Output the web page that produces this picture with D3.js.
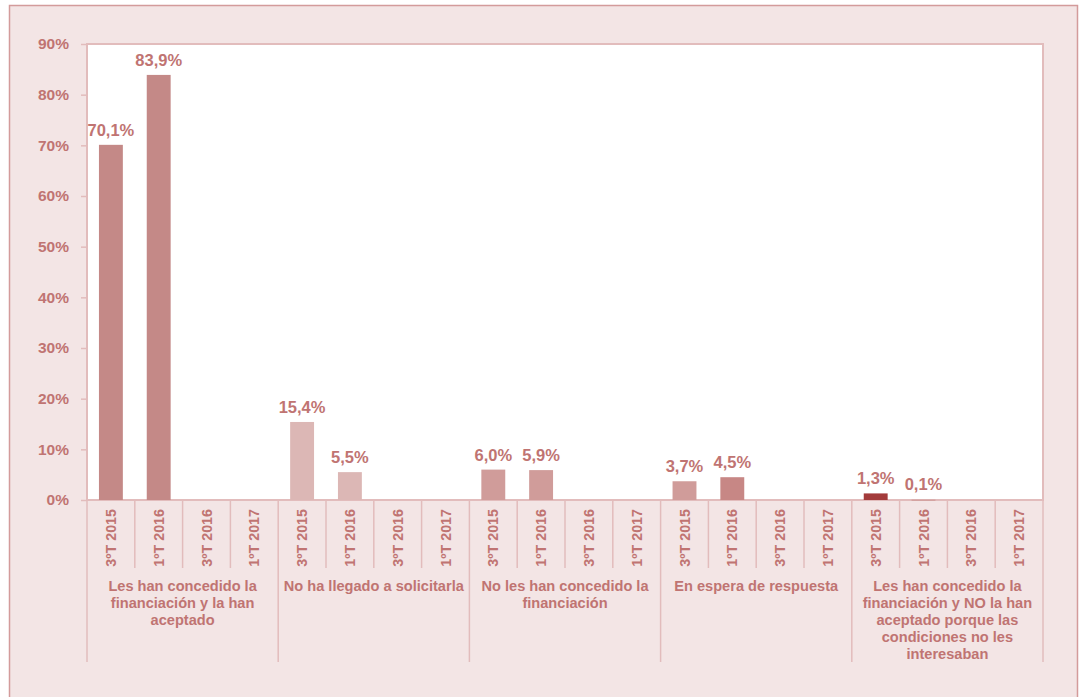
<!DOCTYPE html>
<html>
<head>
<meta charset="utf-8">
<script src="https://cdn.jsdelivr.net/npm/d3@7"></script>
<style>
  body { margin: 0; background: #fff; }
  svg { display: block; font-family: "Liberation Sans", Arial, sans-serif; font-weight: bold; }
</style>
</head>
<body>
<div id="chart"></div>
<script>
// data
const groups = [
  "Les han concedido la|financiación y la han|aceptado",
  "No ha llegado a solicitarla",
  "No les han concedido la|financiación",
  "En espera de respuesta",
  "Les han concedido la|financiación y NO la han|aceptado porque las|condiciones no les|interesaban"
];
const periods = ["3ºT 2015", "1ºT 2016", "3ºT 2016", "1ºT 2017"];
const values = [
  [70.1, 83.9, null, null],
  [15.4, 5.5, null, null],
  [6.0, 5.9, null, null],
  [3.7, 4.5, null, null],
  [1.3, 0.1, null, null]
];
const barColors = [
  ["#c48987", "#c48987"],
  ["#dcb7b5", "#dcb7b5"],
  ["#d09c9a", "#d09c9a"],
  ["#d09c9a", "#c78785"],
  ["#a33b3b", "#d4a3a1"]
];
const yTicks = [0, 10, 20, 30, 40, 50, 60, 70, 80, 90];

const W = 1079, H = 697;
const plotLeft = 87, plotRight = 1043, plotTop = 44, plotBottom = 500;
const textColor = "#c07472";
const lineColor = "#e2bcbc";

const svg = d3.select("#chart").append("svg")
  .attr("width", W).attr("height", H);

// frame
svg.append("rect")
  .attr("x", 9.5).attr("y", 5.5)
  .attr("width", 1068).attr("height", 720)
  .attr("fill", "#f3e5e5")
  .attr("stroke", "#d39b9b").attr("stroke-width", 1.5);

svg.append("rect")
  .attr("x", plotLeft).attr("y", plotTop)
  .attr("width", plotRight - plotLeft).attr("height", plotBottom - plotTop)
  .attr("fill", "#fff")
  .attr("stroke", lineColor).attr("stroke-width", 2);

const rows = [];
groups.forEach((g, gi) => periods.forEach((p, pi) => {
  rows.push({ key: gi + "|" + pi, gi, pi, period: p, value: values[gi][pi] });
}));

const x = d3.scaleBand()
  .domain(rows.map(d => d.key))
  .range([plotLeft, plotRight])
  .paddingInner(0.5)
  .paddingOuter(0.25);

const y = d3.scaleLinear().domain([0, 90]).range([plotBottom, plotTop]);

const step = x.step();
const fmt = v => d3.format(".1f")(v).replace(".", ",") + "%";

// y axis
const yAxis = svg.append("g")
  .attr("transform", `translate(${plotLeft},0)`)
  .call(d3.axisLeft(y).tickValues(yTicks).tickSize(6).tickPadding(12).tickFormat(d => d + "%"));
yAxis.select(".domain").remove();
yAxis.selectAll("line").attr("stroke", lineColor).attr("stroke-width", 1.5);
yAxis.selectAll("text")
  .attr("fill", textColor)
  .attr("font-size", 15.5)
  .attr("font-family", "Liberation Sans, Arial, sans-serif")
  .attr("font-weight", "bold");

// bars
const barRows = rows.filter(d => d.value != null);
svg.append("g").selectAll("rect")
  .data(barRows)
  .join("rect")
  .attr("x", d => x(d.key))
  .attr("width", x.bandwidth())
  .attr("y", d => y(d.value))
  .attr("height", d => Math.max(1.5, y(0) - y(d.value)))
  .attr("fill", d => barColors[d.gi][d.pi]);

svg.append("g").selectAll("text")
  .data(barRows)
  .join("text")
  .attr("x", d => x(d.key) + x.bandwidth() / 2)
  .attr("y", d => y(d.value) - 9)
  .attr("text-anchor", "middle")
  .attr("font-size", 16.5)
  .attr("fill", textColor)
  .text(d => fmt(d.value));

// category separators
const sep = svg.append("g").attr("stroke", lineColor).attr("stroke-width", 1.5);
rows.forEach(d => {
  const xb = x(d.key) - x.paddingOuter() * step;
  sep.append("line")
    .attr("x1", xb).attr("x2", xb)
    .attr("y1", plotBottom).attr("y2", d.pi === 0 ? 662 : 568);
});
sep.append("line")
  .attr("x1", plotRight).attr("x2", plotRight)
  .attr("y1", plotBottom).attr("y2", 662);

// period labels
svg.append("g").selectAll("text")
  .data(rows)
  .join("text")
  .attr("transform", d => `translate(${x(d.key) + x.bandwidth() / 2 + 5},509) rotate(-90)`)
  .attr("text-anchor", "end")
  .attr("font-size", 14.3)
  .attr("fill", textColor)
  .text(d => d.period);

// group labels
const gw = (plotRight - plotLeft) / groups.length;
groups.forEach((g, gi) => {
  const cx = plotLeft + gw * gi + gw / 2;
  const t = svg.append("text")
    .attr("x", cx)
    .attr("y", 591)
    .attr("text-anchor", "middle")
    .attr("font-size", 14.6)
    .attr("fill", textColor);
  g.split("|").forEach((line, li) => {
    t.append("tspan")
      .attr("x", cx)
      .attr("dy", li === 0 ? 0 : 17)
      .text(line);
  });
});
</script>
</body>
</html>
